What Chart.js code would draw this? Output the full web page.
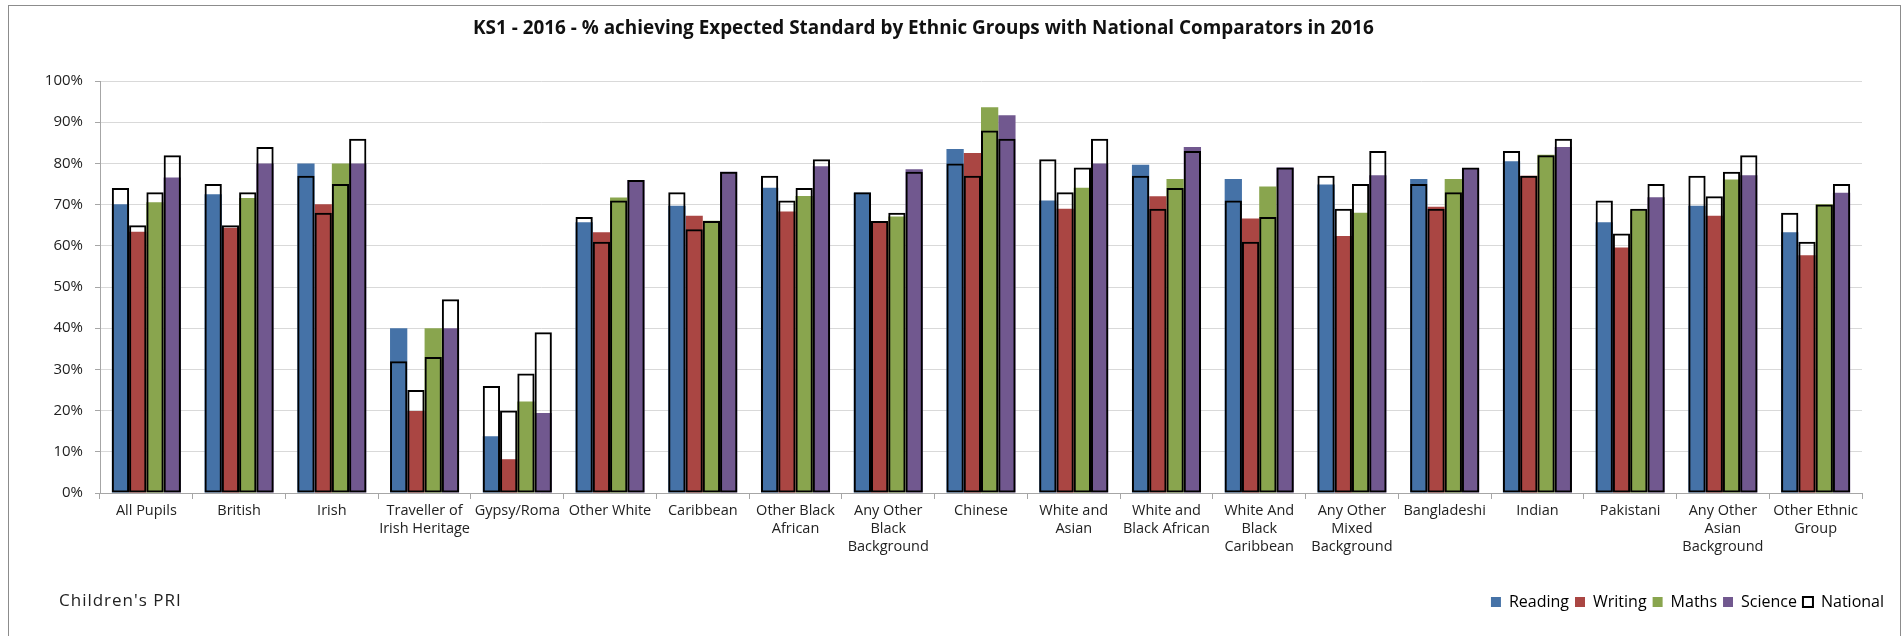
<!DOCTYPE html>
<html lang="en">
<head>
    <meta charset="UTF-8">
    <title>KS1 2016 - Expected Standard by Ethnic Group</title>
    <script src="https://cdn.jsdelivr.net/npm/chart.js"></script>
    <style>
        body {
            margin: 0;
            background-color: #fff;
            font-family: "Open Sans", Arial, sans-serif;
            overflow: hidden;
        }
        #frame {
            position: absolute;
            left: 8px;
            top: 5px;
            width: 1891px;
            height: 700px;
            border: 1px solid #8c8c8c;
        }
        #chartBox {
            position: absolute;
            left: 0;
            top: 0;
            width: 1903px;
            height: 636px;
        }
        #chartTitle {
            position: absolute;
            left: 473px;
            top: 15px;
            font-size: 18.9px;
            line-height: 24px;
            font-weight: bold;
            color: #111;
            white-space: nowrap;
        }
        #source {
            position: absolute;
            left: 59px;
            top: 588px;
            font-size: 17px;
            line-height: 24px;
            letter-spacing: 1px;
            color: #222;
        }
    </style>
</head>
<body>
    <div id="frame"></div>
    <div id="chartBox">
        <canvas id="ethnicChart"></canvas>
    </div>
    <div id="chartTitle">KS1 - 2016 - % achieving Expected Standard by Ethnic Groups with National Comparators in 2016</div>
    <div id="source">Children's PRI</div>

    <script>
        // ethnic groups along the x axis
        const categories = [
            'All Pupils', 'British', 'Irish', ['Traveller of', 'Irish Heritage'], 'Gypsy/Roma',
            'Other White', 'Caribbean', ['Other Black', 'African'], ['Any Other', 'Black', 'Background'],
            'Chinese', ['White and', 'Asian'], ['White and', 'Black African'], ['White And', 'Black', 'Caribbean'],
            ['Any Other', 'Mixed', 'Background'], 'Bangladeshi', 'Indian', 'Pakistani',
            ['Any Other', 'Asian', 'Background'], ['Other Ethnic', 'Group']
        ];

        // % achieving expected standard, local results
        const readingData = [70.1, 72.5, 80.0, 40.0, 13.8, 65.7, 69.7, 74.1, 72.9, 83.5, 71.0, 79.7, 76.2, 74.9, 76.2, 80.5, 65.7, 69.7, 63.3];
        const writingData = [63.4, 64.4, 70.1, 19.9, 8.2, 63.3, 67.3, 68.3, 65.9, 82.5, 69.0, 72.0, 66.6, 62.4, 69.5, 77.0, 59.6, 67.3, 57.7];
        const mathsData   = [70.6, 71.6, 80.0, 40.0, 22.2, 71.7, 66.1, 72.1, 67.1, 93.6, 74.1, 76.2, 74.4, 68.0, 76.2, 82.1, 68.6, 76.1, 70.1];
        const scienceData = [76.6, 80.0, 80.0, 40.0, 19.4, 76.0, 78.0, 79.3, 78.6, 91.7, 80.0, 84.0, 79.0, 77.1, 78.8, 84.0, 71.8, 77.1, 72.9];

        // national comparators for the same groups
        const nationalReading = [74, 75, 77, 32, 26, 67, 73, 77, 73, 80, 81, 77, 71, 77, 75, 83, 71, 77, 68];
        const nationalWriting = [65, 65, 68, 25, 20, 61, 64, 71, 66, 77, 73, 69, 61, 69, 69, 77, 63, 72, 61];
        const nationalMaths   = [73, 73, 75, 33, 29, 71, 66, 74, 68, 88, 79, 74, 67, 75, 73, 82, 69, 78, 70];
        const nationalScience = [82, 84, 86, 47, 39, 76, 78, 81, 78, 86, 86, 83, 79, 83, 79, 86, 75, 82, 75];

        const seriesNames = ['Reading', 'Writing', 'Maths', 'Science'];
        const seriesColors = ['#4572a7', '#aa4643', '#89a54e', '#71588f'];

        const subjectData = [readingData, writingData, mathsData, scienceData];
        const nationalData = [nationalReading, nationalWriting, nationalMaths, nationalScience];

        const groupWidth = 0.745;

        // each subject and its national figure share a stack id, so they share one slot;
        // y is not stacked, so the outline overlays the coloured bar instead of adding to it
        const subjectSets = subjectData.map((values, i) => ({
            label: seriesNames[i],
            data: values,
            stack: seriesNames[i],
            backgroundColor: seriesColors[i],
            borderWidth: 0,
            order: 1,
            categoryPercentage: groupWidth,
            barPercentage: 1
        }));

        const nationalSets = nationalData.map((values, i) => ({
            label: 'National ' + seriesNames[i],
            data: values,
            stack: seriesNames[i],
            backgroundColor: 'rgba(0,0,0,0)',
            borderColor: '#000',
            borderWidth: 2,
            borderSkipped: false,
            order: 0,
            categoryPercentage: groupWidth,
            barPercentage: 1
        }));

        const ctx = document.getElementById('ethnicChart').getContext('2d');

        new Chart(ctx, {
            type: 'bar',
            data: {
                labels: categories,
                datasets: subjectSets.concat(nationalSets)
            },
            options: {
                responsive: true,
                maintainAspectRatio: false,
                animation: false,
                layout: {
                    padding: { left: 0, right: 13, top: 81, bottom: 16 }
                },
                plugins: {
                    title: { display: false },
                    legend: {
                        position: 'bottom',
                        align: 'end',
                        labels: {
                            color: '#222',
                            font: { family: 'Open Sans', size: 16 },
                            boxWidth: 10,
                            boxHeight: 10,
                            padding: 6,
                            generateLabels: function () {
                                const items = seriesNames.map((name, i) => ({
                                    text: name,
                                    fillStyle: seriesColors[i],
                                    strokeStyle: seriesColors[i],
                                    lineWidth: 0,
                                    datasetIndex: i
                                }));
                                items.push({
                                    text: 'National',
                                    fillStyle: '#fff',
                                    strokeStyle: '#000',
                                    lineWidth: 2,
                                    datasetIndex: 4
                                });
                                return items;
                            }
                        }
                    },
                    tooltip: { enabled: false }
                },
                scales: {
                    x: {
                        offset: true,
                        grid: {
                            offset: true,
                            drawOnChartArea: false,
                            drawTicks: true,
                            tickLength: 6,
                            color: '#a6a6a6'
                        },
                        border: { color: '#a6a6a6', width: 1 },
                        ticks: {
                            autoSkip: false,
                            maxRotation: 0,
                            color: '#222',
                            padding: 3,
                            font: { family: 'Open Sans', size: 14.5, lineHeight: 1.24 }
                        },
                        afterFit: function (scale) {
                            scale.height = 95;
                        }
                    },
                    y: {
                        min: 0,
                        max: 100,
                        stacked: false,
                        grid: {
                            color: '#d9d9d9',
                            tickLength: 5,
                            tickColor: '#a6a6a6'
                        },
                        border: { color: '#a6a6a6', width: 1 },
                        ticks: {
                            stepSize: 10,
                            color: '#222',
                            padding: 12,
                            font: { family: 'Open Sans', size: 15 },
                            callback: function (value) {
                                return value + '%';
                            }
                        },
                        afterFit: function (scale) {
                            scale.width = 100;
                        }
                    },
                    // empty right-hand spacer keeps the plot clear of the legend edge
                    yRight: {
                        position: 'right',
                        display: true,
                        grid: { display: false },
                        border: { display: false },
                        ticks: { display: false },
                        afterFit: function (scale) {
                            scale.width = 28;
                        }
                    }
                }
            }
        });
    </script>
</body>
</html>
